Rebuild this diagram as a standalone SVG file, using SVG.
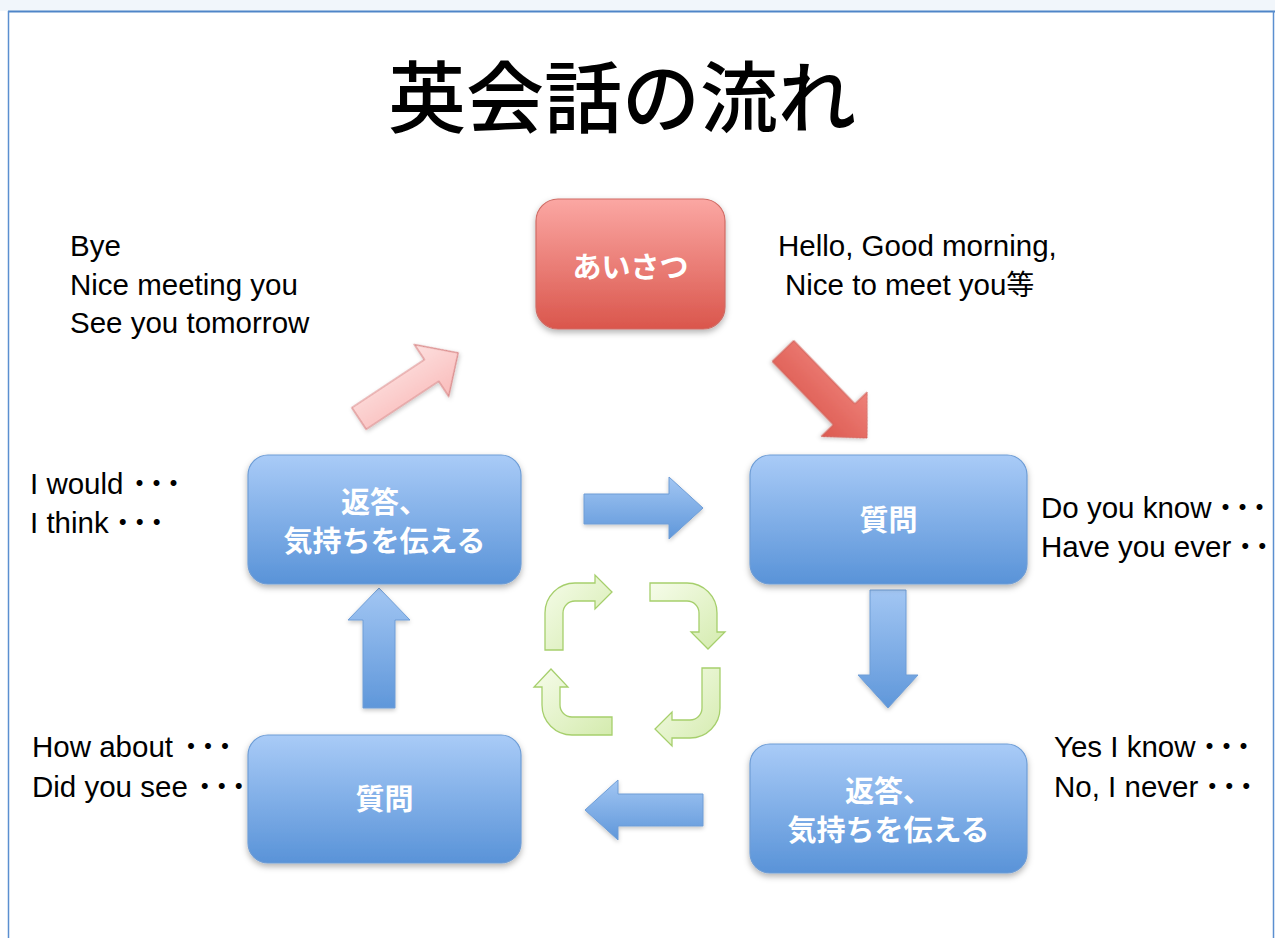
<svg xmlns="http://www.w3.org/2000/svg" width="1275" height="938" viewBox="0 0 1275 938">
<style>
.en{font-family:"Liberation Sans",Arial,sans-serif;font-size:29.5px;fill:#000}
.dots{font-family:"Noto Sans CJK JP",sans-serif;font-size:28px;letter-spacing:-11px}
.nt{font-family:"Noto Sans CJK JP",sans-serif;font-size:29px;font-weight:bold;fill:#fff;text-anchor:middle}
.blue{fill:url(#gBlue);stroke:#6e9dd6;stroke-width:1.2}
.barr{fill:url(#gBlueA);stroke:#6e9dd6;stroke-width:1}
.grn{fill:url(#gGreen);stroke:#a6cf6c;stroke-width:1.3}
</style>
<defs>
<linearGradient id="gRed" x1="0" y1="0" x2="0" y2="1"><stop offset="0" stop-color="#fba7a3"/><stop offset="1" stop-color="#da564c"/></linearGradient>
<linearGradient id="gBlue" x1="0" y1="0" x2="0" y2="1"><stop offset="0" stop-color="#a9cbf7"/><stop offset="1" stop-color="#5993d8"/></linearGradient>
<linearGradient id="gBlueA" x1="0" y1="0" x2="0" y2="1"><stop offset="0" stop-color="#a2c6f3"/><stop offset="1" stop-color="#5f97da"/></linearGradient>
<linearGradient id="gPink" x1="0" y1="0" x2="0" y2="1"><stop offset="0" stop-color="#fde0df"/><stop offset="1" stop-color="#f9bcbb"/></linearGradient>
<linearGradient id="gRedA" x1="0" y1="0" x2="0" y2="1"><stop offset="0" stop-color="#ee8079"/><stop offset="1" stop-color="#dc5a50"/></linearGradient>
<linearGradient id="gGreen" x1="0" y1="0" x2="1" y2="1"><stop offset="0" stop-color="#f6fcea"/><stop offset="1" stop-color="#d4ebae"/></linearGradient>
<filter id="sh" x="-20%" y="-20%" width="140%" height="150%"><feDropShadow dx="0" dy="3" stdDeviation="3" flood-color="#000" flood-opacity="0.3"/></filter>
<filter id="sh2" x="-20%" y="-20%" width="140%" height="150%"><feDropShadow dx="0" dy="2" stdDeviation="2" flood-color="#000" flood-opacity="0.22"/></filter>
</defs>

<rect x="0" y="0" width="1275" height="938" fill="#fff"/>
<rect x="0" y="0" width="1275" height="11" fill="#f1f6fb"/>
<line x1="8" y1="11.5" x2="1275" y2="11.5" stroke="#4f85c8" stroke-width="2"/>
<line x1="8.5" y1="11" x2="8.5" y2="938" stroke="#5b8fd0" stroke-width="1.5"/>
<line x1="1273.5" y1="11" x2="1273.5" y2="938" stroke="#5b8fd0" stroke-width="1.5"/>

<text x="622" y="127" font-family="Noto Sans CJK JP, sans-serif" font-size="78" font-weight="500" text-anchor="middle" fill="#000">英会話の流れ</text>

<g id="connectors">
  <path filter="url(#sh2)" fill="url(#gPink)" stroke="#d98888" stroke-width="1.2" transform="translate(359,418.5) rotate(-33.5)" d="M0,-13 L87,-13 L87,-31 L119,0 L87,31 L87,13 L0,13 Z"/>
  <path filter="url(#sh2)" fill="url(#gRedA)" stroke="#d0625b" stroke-width="1" transform="translate(783,351) rotate(46)" d="M0,-15 L88,-15 L88,-32 L121,0 L88,32 L88,15 L0,15 Z"/>
  <path filter="url(#sh2)" class="barr" d="M584,494 L669,494 L669,477 L703,508 L669,539 L669,524 L584,524 Z"/>
  <path filter="url(#sh2)" class="barr" d="M870,590 L906,590 L906,675 L918,675 L888,708 L858,675 L870,675 Z"/>
  <path filter="url(#sh2)" class="barr" d="M703,794 L618,794 L618,780 L585,810 L618,840 L618,826 L703,826 Z"/>
  <path filter="url(#sh2)" class="barr" d="M363,708 L363,620 L348,620 L379,588 L410,620 L395,620 L395,708 Z"/>
  <g id="cycle">
    <path class="grn" d="M545,650 L545,613 A30,30 0 0 1 575,583 L595,583 L595,575 L612,592 L595,609 L595,601 L575,601 A12,12 0 0 0 563,613 L563,650 Z"/>
    <path class="grn" d="M650,583 L687,583 A30,30 0 0 1 717,613 L717,632 L725,632 L708,649 L691,632 L699,632 L699,613 A12,12 0 0 0 687,601 L650,601 Z"/>
    <path class="grn" d="M702,668 L720,668 L720,708 A30,30 0 0 1 690,738 L672,738 L672,746 L655,729 L672,712 L672,720 L690,720 A12,12 0 0 0 702,708 Z"/>
    <path class="grn" d="M612,735 L572,735 A30,30 0 0 1 542,705 L542,687 L534,687 L551,669 L568,687 L560,687 L560,705 A12,12 0 0 0 572,717 L612,717 Z"/>
  </g>
</g>

<g id="n-aisatsu">
  <rect x="536" y="199" width="189" height="130" rx="22" fill="url(#gRed)" stroke="#cf6b64" stroke-width="1.2" filter="url(#sh)"/>
  <text class="nt" x="630.5" y="278">あいさつ</text>
</g>
<g id="n-shitsumon1">
  <rect x="750" y="455" width="277" height="129" rx="20" class="blue" filter="url(#sh)"/>
  <text class="nt" x="888.5" y="531">質問</text>
</g>
<g id="n-hento1">
  <rect x="248" y="455" width="273" height="129" rx="20" class="blue" filter="url(#sh)"/>
  <text class="nt" x="384.5" y="513">返答、</text>
  <text class="nt" x="384.5" y="552">気持ちを伝える</text>
</g>
<g id="n-shitsumon2">
  <rect x="248" y="735" width="273" height="128" rx="20" class="blue" filter="url(#sh)"/>
  <text class="nt" x="384.5" y="810">質問</text>
</g>
<g id="n-hento2">
  <rect x="750" y="744" width="277" height="129" rx="20" class="blue" filter="url(#sh)"/>
  <text class="nt" x="888.5" y="802">返答、</text>
  <text class="nt" x="888.5" y="841">気持ちを伝える</text>
</g>

<g id="labels">
  <text class="en" x="70" y="256">Bye</text>
  <text class="en" x="70" y="295">Nice meeting you</text>
  <text class="en" x="70" y="333">See you tomorrow</text>
  <text class="en" x="778" y="256">Hello, Good morning,</text>
  <text class="en" x="785" y="295">Nice to meet you<tspan font-family="Noto Sans CJK JP, sans-serif" font-size="28px">等</tspan></text>
  <text class="en" x="30" y="494">I would<tspan class="dots" dx="2">・・・</tspan></text>
  <text class="en" x="30" y="533">I think<tspan class="dots">・・・</tspan></text>
  <text class="en" x="1041" y="518">Do you know<tspan class="dots">・・・</tspan></text>
  <text class="en" x="1041" y="557">Have you ever<tspan class="dots">・・</tspan></text>
  <text class="en" x="1054" y="757">Yes I know<tspan class="dots">・・・</tspan></text>
  <text class="en" x="1054" y="797">No, I never<tspan class="dots">・・・</tspan></text>
  <text class="en" x="32" y="757">How about<tspan class="dots" dx="4">・・・</tspan></text>
  <text class="en" x="32" y="797">Did you see<tspan class="dots" dx="3">・・・</tspan></text>
</g>
</svg>
